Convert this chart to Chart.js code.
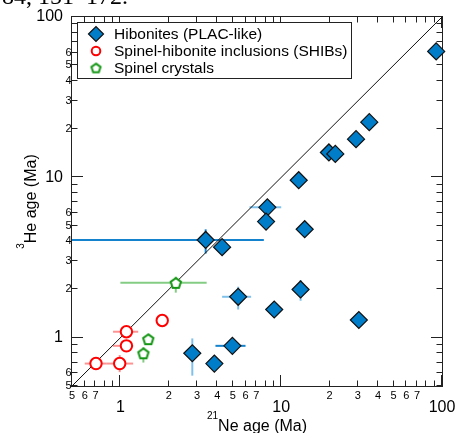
<!DOCTYPE html>
<html><head><meta charset="utf-8">
<script src="https://cdn.jsdelivr.net/npm/chart.js@4/dist/chart.umd.min.js"></script>
<style>
html,body{margin:0;padding:0;background:#fff;overflow:hidden}
#wrap{position:relative;width:456px;height:433px;overflow:hidden}
#cap{position:absolute;left:2px;top:-16px;font:24px "Liberation Serif","Times New Roman",serif;line-height:24px;white-space:nowrap;color:#000}
canvas{position:absolute;left:0;top:0}
</style></head><body>
<div id="wrap"><canvas id="c" width="456" height="433"></canvas><div id="cap">84, 151–172.</div></div>
<script>
// ---- data (Ma) ----
const hibX = [92, 35.3, 29.2, 19.8, 21.7, 12.85, 8.2, 8.05, 14.0, 3.39, 4.29, 5.4, 13.2, 9.05, 30.4, 4.97, 2.8, 3.84];
const hibY = [61, 22.1, 17.3, 14.3, 14.0, 9.6, 6.5, 5.3, 4.75, 4.07, 3.67, 1.8, 2.0, 1.5, 1.29, 0.89, 0.80, 0.69];
const hibXErr = [null, null, null, null, null, null, [6.35, 10.0], null, null, [0.3, 7.8], null, [4.29, 6.5], null, null, null, [3.9, 6.0], null, null];
const hibYErr = [null, null, null, null, null, null, null, null, null, [3.35, 4.74], null, [1.5, 2.08], [1.7, 2.29], null, null, null, [0.58, 0.99], null];

const shibX = [0.705, 0.99, 1.09, 1.09, 1.82];
const shibY = [0.69, 0.69, 0.89, 1.09, 1.28];
const shibXErr = [[0.60, 0.82], [0.82, 1.2], [0.90, 1.2], [0.90, 1.29], null];
const shibYErr = [null, [0.61, 0.78], null, null, null];

const spX = [2.21, 1.49, 1.39];
const spY = [2.2, 0.98, 0.80];
const spXErr = [[1.0, 3.44], null, null];
const spYErr = [[1.91, 2.4], null, [0.70, 0.87]];

const oneToOne = [0.5, 100];

const seriesNames = ['Hibonites (PLAC-like)', 'Spinel-hibonite inclusions (SHIBs)', 'Spinel crystals'];
const xTitle = ['21', 'Ne age (Ma)'];
const yTitle = ['3', 'He age (Ma)'];

// tick marks and labels
const tickVals = [0.5,0.6,0.7,0.8,0.9,1,2,3,4,5,6,7,8,9,10,20,30,40,50,60,70,80,90,100];
const majorVals = [1, 10, 100];
const majorLabels = ['1', '10', '100'];
const xMinorVals = [0.5,0.6,0.7,2,3,4,5,6,7,20,30,40,50,60,70];
const xMinorLabels = ['5','6','7','2','3','4','5','6','7','2','3','4','5','6','7'];
const yMinorVals = [0.5,0.6,2,3,4,5,6,20,30,40,50,60];
const yMinorLabels = ['5','6','2','3','4','5','6','2','3','4','5','6'];

const FONT = '"Liberation Sans", Arial, sans-serif';
const BLUE = 'rgb(0,125,200)';

function pentagon(r, lw, color){
  const s = Math.ceil(2*r + lw + 3);
  const c = document.createElement('canvas'); c.width = s; c.height = s;
  const g = c.getContext('2d');
  g.beginPath();
  for (let i = 0; i < 5; i++) {
    const a = -Math.PI/2 + i*2*Math.PI/5;
    g.lineTo(s/2 + r*Math.cos(a), s/2 + 0.095*r + r*Math.sin(a));
  }
  g.closePath(); g.fillStyle = '#fff'; g.fill();
  g.strokeStyle = color; g.lineWidth = lw; g.lineJoin = 'miter'; g.stroke();
  return c;
}
const pentPlot = pentagon(5.4, 2, 'rgb(20,150,20)');
const pentLeg = pentagon(4.8, 2, 'rgb(20,150,20)');

const pts = (xs, ys) => xs.map((v, i) => ({x: v, y: ys[i]}));

const framePlugin = {
  id: 'frame',
  beforeDatasetsDraw(chart) {
    const {ctx, chartArea: a, scales: {x, y}} = chart;
    ctx.save();
    ctx.strokeStyle = '#222'; ctx.lineWidth = 1;
    ctx.strokeRect(a.left - 0.5, a.top - 0.5, a.right - a.left + 1, a.bottom - a.top + 1);
    ctx.beginPath();
    tickVals.forEach(v => {
      const len = majorVals.includes(v) ? 11 : 5.5;
      const px = Math.round(x.getPixelForValue(v)) - 0.5;
      ctx.moveTo(px, a.bottom); ctx.lineTo(px, a.bottom - len);
      ctx.moveTo(px, a.top); ctx.lineTo(px, a.top + len);
      const py = Math.round(y.getPixelForValue(v)) - 0.5;
      ctx.moveTo(a.left, py); ctx.lineTo(a.left + len, py);
      ctx.moveTo(a.right, py); ctx.lineTo(a.right - len, py);
    });
    ctx.stroke();
    // error bars
    ctx.beginPath(); ctx.rect(a.left, a.top, a.right - a.left, a.bottom - a.top); ctx.clip();
    chart.data.datasets.forEach(ds => {
      if (!ds.errX) return;
      ds.data.forEach((p, i) => {
        const px = x.getPixelForValue(p.x), py = y.getPixelForValue(p.y);
        const ex = ds.errX[i], ey = ds.errY[i];
        ctx.strokeStyle = (ds.errStrong && ds.errStrong[i]) ? ds.errColorStrong : ds.errColor;
        ctx.lineWidth = 2;
        if (ex) {
          ctx.beginPath(); ctx.moveTo(x.getPixelForValue(ex[0]), py); ctx.lineTo(x.getPixelForValue(ex[1]), py); ctx.stroke();
        }
        if (ey) {
          ctx.beginPath(); ctx.moveTo(px, y.getPixelForValue(ey[0])); ctx.lineTo(px, y.getPixelForValue(ey[1])); ctx.stroke();
        }
      });
    });
    ctx.restore();
  },
  afterDraw(chart) {
    const {ctx, chartArea: a, scales: {x, y}} = chart;
    ctx.save();
    ctx.fillStyle = '#000';
    // x labels
    ctx.textAlign = 'center'; ctx.textBaseline = 'middle';
    ctx.font = '11px ' + FONT;
    xMinorVals.forEach((v, i) => ctx.fillText(xMinorLabels[i], x.getPixelForValue(v), a.bottom + 10));
    ctx.font = '16px ' + FONT;
    majorVals.forEach((v, i) => ctx.fillText(majorLabels[i], x.getPixelForValue(v), a.bottom + 22));
    // y labels
    ctx.textAlign = 'right';
    ctx.font = '11px ' + FONT;
    yMinorVals.forEach((v, i) => ctx.fillText(yMinorLabels[i], a.left - 0.5, y.getPixelForValue(v)));
    ctx.font = '16px ' + FONT;
    majorVals.forEach((v, i) => ctx.fillText(majorLabels[i], a.left - 9, y.getPixelForValue(v)));
    // x title
    ctx.textAlign = 'left'; ctx.textBaseline = 'alphabetic';
    ctx.font = '10px ' + FONT; const w1 = ctx.measureText(xTitle[0]).width;
    ctx.font = '16px ' + FONT; const w2 = ctx.measureText(xTitle[1]).width;
    const cx = (a.left + a.right) / 2, sx = cx - (w1 + w2) / 2;
    ctx.font = '10px ' + FONT; ctx.fillText(xTitle[0], sx, 418.5);
    ctx.font = '16px ' + FONT; ctx.fillText(xTitle[1], sx + w1, 430.5);
    // y title
    ctx.save();
    ctx.translate(35.5, (a.top + a.bottom) / 2); ctx.rotate(-Math.PI / 2);
    ctx.font = '10px ' + FONT; const v1 = ctx.measureText(yTitle[0]).width;
    ctx.font = '16px ' + FONT; const v2 = ctx.measureText(yTitle[1]).width;
    const sy = -(v1 + v2) / 2;
    ctx.font = '10px ' + FONT; ctx.fillText(yTitle[0], sy, -12);
    ctx.font = '16px ' + FONT; ctx.fillText(yTitle[1], sy + v1, 0);
    ctx.restore();
    // legend
    ctx.fillStyle = '#fff'; ctx.fillRect(77, 22, 275, 57);
    ctx.strokeStyle = '#222'; ctx.lineWidth = 1; ctx.strokeRect(77.5, 22.5, 274, 56);
    const rows = [34, 51, 68];
    ctx.beginPath(); ctx.moveTo(96 - 7.5, rows[0]); ctx.lineTo(96, rows[0] - 7.5); ctx.lineTo(96 + 7.5, rows[0]); ctx.lineTo(96, rows[0] + 7.5); ctx.closePath();
    ctx.fillStyle = BLUE; ctx.fill(); ctx.strokeStyle = '#111'; ctx.lineWidth = 1.2; ctx.stroke();
    ctx.beginPath(); ctx.arc(96, rows[1], 4.3, 0, Math.PI * 2); ctx.fillStyle = '#fff'; ctx.fill();
    ctx.strokeStyle = 'rgb(255,0,0)'; ctx.lineWidth = 2; ctx.stroke();
    ctx.drawImage(pentLeg, 96 - pentLeg.width / 2, rows[2] - pentLeg.height / 2);
    ctx.fillStyle = '#000'; ctx.font = '15.5px ' + FONT; ctx.textAlign = 'left'; ctx.textBaseline = 'middle';
    seriesNames.forEach((n, i) => ctx.fillText(n, 114, rows[i] + 0.5));
    ctx.restore();
  }
};

new Chart(document.getElementById('c'), {
  type: 'scatter',
  data: {
    datasets: [
      {
        label: seriesNames[0], data: pts(hibX, hibY), errX: hibXErr, errY: hibYErr,
        errColor: 'rgba(60,160,225,0.65)', errColorStrong: 'rgb(20,130,205)',
        errStrong: [false,false,false,false,false,false,false,false,false,true,false,false,false,false,false,true,false,false],
        pointStyle: 'rectRot', pointRadius: 8.5, pointHoverRadius: 8.5,
        backgroundColor: BLUE, borderColor: '#111', borderWidth: 1.2, clip: false
      },
      {
        label: seriesNames[1], data: pts(shibX, shibY), errX: shibXErr, errY: shibYErr,
        errColor: 'rgba(255,40,40,0.5)',
        pointStyle: 'circle', pointRadius: 5.7, pointHoverRadius: 5.7,
        backgroundColor: '#fff', borderColor: 'rgb(255,0,0)', borderWidth: 2, clip: false
      },
      {
        label: seriesNames[2], data: pts(spX, spY), errX: spXErr, errY: spYErr,
        errColor: 'rgba(50,170,50,0.6)',
        pointStyle: pentPlot, pointRadius: 6, backgroundColor: '#fff', borderColor: 'rgb(20,150,20)', clip: false
      },
      {
        type: 'line', label: '1:1', data: pts(oneToOne, oneToOne),
        borderColor: '#111', borderWidth: 1, pointRadius: 0, fill: false
      }
    ]
  },
  options: {
    responsive: false, animation: false, devicePixelRatio: 1,
    layout: { padding: { left: 72, right: 14, top: 17, bottom: 47 } },
    plugins: { legend: { display: false }, tooltip: { enabled: false } },
    events: [],
    scales: {
      x: { type: 'logarithmic', min: 0.5, max: 100, display: false },
      y: { type: 'logarithmic', min: 0.5, max: 100, display: false }
    }
  },
  plugins: [framePlugin]
});
</script>
</body></html>
